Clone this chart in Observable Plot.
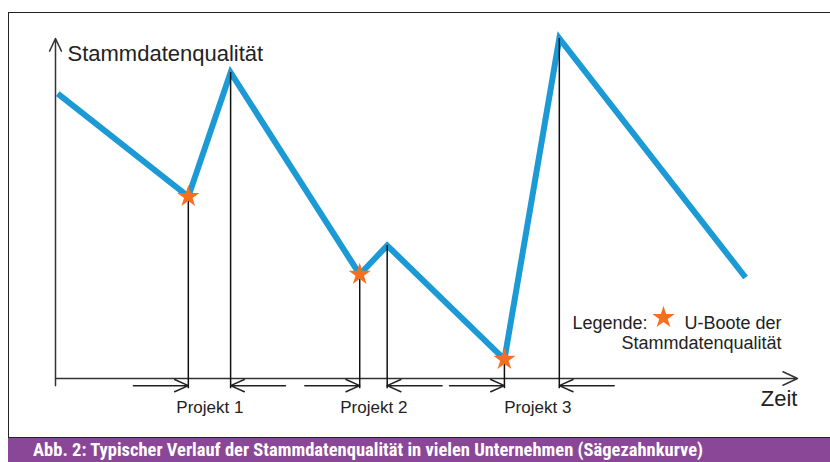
<!DOCTYPE html>
<html>
<head>
<meta charset="utf-8">
<script src="https://cdn.jsdelivr.net/npm/d3@7"></script>
<script src="https://cdn.jsdelivr.net/npm/@observablehq/plot@0.6"></script>
<style>
  html, body { margin: 0; padding: 0; background: #fff; }
  #wrap { position: relative; width: 830px; height: 462px; overflow: hidden; }
  #frame { position: absolute; left: 8px; top: 12px; width: 830px; height: 424px;
           border-top: 1.5px solid #222; border-left: 1.5px solid #222; border-bottom: 1.5px solid #222; }
  #chart { position: absolute; left: 0; top: 0; }
  #caption { position: absolute; left: 8px; top: 438px; width: 822px; height: 24px; background: #8b4797;
             color: #fff; overflow: hidden; }
  #caption span { position: absolute; left: 25px; top: 1px; white-space: nowrap; display: inline-block;
                  font-family: "Liberation Sans Narrow", "Roboto Condensed", "DejaVu Sans Condensed", "Liberation Sans", Arial, sans-serif;
                  font-weight: bold; font-size: 17.5px; line-height: 22px; transform-origin: 0 0; }
</style>
</head>
<body>
<div id="wrap">
  <div id="frame"></div>
  <div id="chart"></div>
  <div id="caption"><span id="captxt">Abb. 2: Typischer Verlauf der Stammdatenqualität in vielen Unternehmen (Sägezahnkurve)</span></div>
</div>
<script>
// ---- data (arbitrary units 0..100 on both axes) ----
const zeit        = [0.3, 17.9, 23.6, 41.0, 44.7, 60.5, 67.9, 93.0];
const qualitaet   = [83.8, 53.5, 90.0, 30.6, 39.1, 5.6, 100.0, 29.7];
const uboot       = [false, true, false, true, false, true, false, false];
const projekte    = ["Projekt 1", "Projekt 2", "Projekt 3"];
const projektStartIdx = [1, 3, 5];
const projektEndeIdx  = [2, 4, 6];
const projektLabelX   = [20.8, 42.9, 65.0];
const pfeilLaenge = 7.4;     // length of the project arrows (time units)
const xDomain = [0, 100];
const yDomain = [0, 100];
const achsenTitelY = "Stammdatenqualität";
const achsenTitelX = "Zeit";
const legendeTitel = "Legende:";
const legendeText  = ["U-Boote der", "Stammdatenqualität"];

const punkte = zeit.map((t, i) => ({t, q: qualitaet[i], uboot: uboot[i]}));
const projektRows = projekte.map((name, i) => ({
  name,
  start: zeit[projektStartIdx[i]], qStart: qualitaet[projektStartIdx[i]],
  ende: zeit[projektEndeIdx[i]], qEnde: qualitaet[projektEndeIdx[i]],
  labelX: projektLabelX[i]
}));
const senkrechte = projektRows.flatMap(p => [{t: p.start, q: p.qStart}, {t: p.ende, q: p.qEnde}]);
const pfeileY = -2.1;
const pfeile = projektRows.flatMap(p => [
  {x1: p.start - pfeilLaenge, x2: p.start},
  {x1: p.ende + pfeilLaenge, x2: p.ende}
]);

const blau = "#1b9ad6";
const orange = "#f37021";
const font = '"Liberation Sans", Arial, Helvetica, sans-serif';

const chart = Plot.plot({
  width: 830,
  height: 438,
  marginLeft: 55,
  marginRight: 33,
  marginTop: 38,
  marginBottom: 60,
  x: {domain: xDomain, axis: null},
  y: {domain: yDomain, axis: null},
  style: {fontFamily: font, background: "transparent", overflow: "visible", color: "#222"},
  marks: [
    // axes with arrowheads
    Plot.arrow([{x1: xDomain[0], y1: yDomain[0], x2: xDomain[1], y2: yDomain[0]}],
      {x1: "x1", y1: "y1", x2: "x2", y2: "y2", stroke: "#333", strokeWidth: 1.5, headLength: 16, headAngle: 50}),
    Plot.arrow([{x1: xDomain[0], y1: yDomain[0] - 2.1, x2: xDomain[0], y2: yDomain[1]}],
      {x1: "x1", y1: "y1", x2: "x2", y2: "y2", stroke: "#333", strokeWidth: 1.5, headLength: 14, headAngle: 50}),
    // project arrows under the axis
    Plot.arrow(pfeile, {x1: "x1", x2: "x2", y1: pfeileY, y2: pfeileY, stroke: "#222", strokeWidth: 1.5, headLength: 15, headAngle: 48}),
    // quality line
    Plot.line(punkte, {x: "t", y: "q", stroke: blau, strokeWidth: 6, strokeLinejoin: "miter", strokeLinecap: "butt", strokeMiterlimit: 4}),
    // vertical drop lines
    Plot.ruleX(senkrechte, {x: "t", y1: "q", y2: -3, stroke: "#111", strokeWidth: 1.5}),
    // U-Boote stars
    Plot.dot(punkte.filter(d => d.uboot), {x: "t", y: "q", symbol: "star", r: 7, fill: orange, stroke: "none"}),
    // project labels
    Plot.text(projektRows, {x: "labelX", y: yDomain[0], text: "name", dy: 34, lineAnchor: "bottom", textAnchor: "middle", fontSize: 17, fill: "#222"}),
    // axis titles
    Plot.text([achsenTitelY], {frameAnchor: "top-left", dx: 12, dy: 22, lineAnchor: "bottom", textAnchor: "start", fontSize: 22, fill: "#222"}),
    Plot.text([achsenTitelX], {frameAnchor: "bottom-right", dx: 0, dy: 27, lineAnchor: "bottom", textAnchor: "end", fontSize: 22, fill: "#222"}),
    // legend
    Plot.text([legendeTitel], {frameAnchor: "bottom-right", dx: -225, dy: -50, lineAnchor: "bottom", textAnchor: "start", fontSize: 18, fill: "#222"}),
    Plot.dot([legendeTitel], {frameAnchor: "bottom-right", dx: -134, dy: -61, symbol: "star", r: 7, fill: orange, stroke: "none"}),
    Plot.text([legendeText[0]], {frameAnchor: "bottom-right", dx: -16, dy: -50, lineAnchor: "bottom", textAnchor: "end", fontSize: 18, fill: "#222"}),
    Plot.text([legendeText[1]], {frameAnchor: "bottom-right", dx: -16, dy: -30, lineAnchor: "bottom", textAnchor: "end", fontSize: 18, fill: "#222"})
  ]
});
document.getElementById("chart").appendChild(chart);

// fit the condensed caption to its width in the reference
const cap = document.getElementById("captxt");
const w = cap.getBoundingClientRect().width;
const s = 670 / w;
cap.style.transform = `scaleX(${s})`;
</script>
</body>
</html>
